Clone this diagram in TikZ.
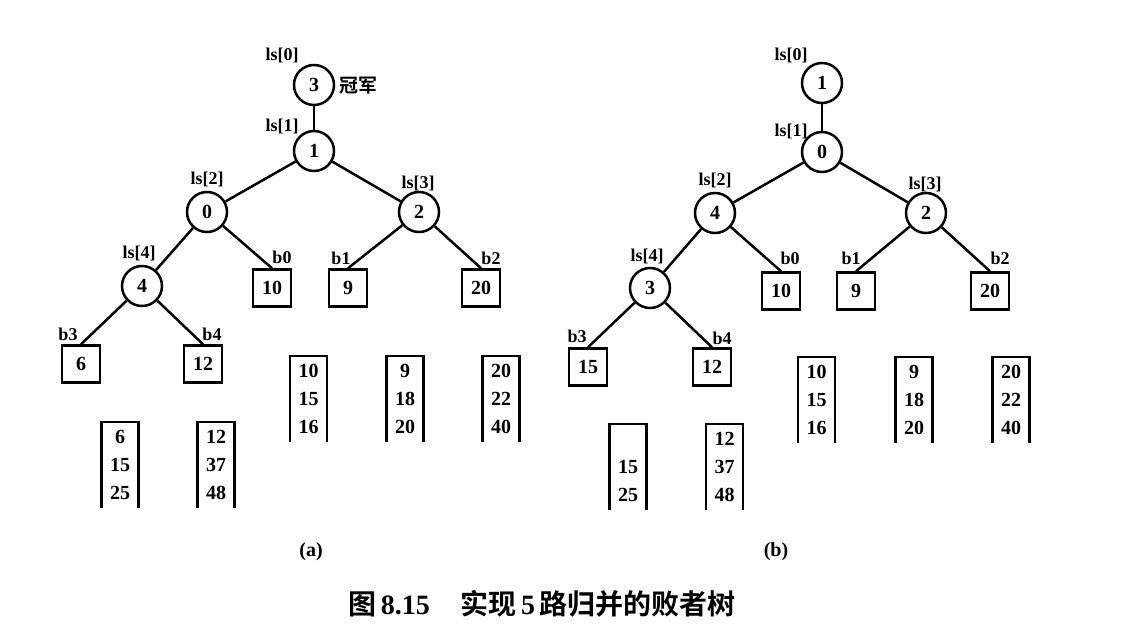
\documentclass[tikz,border=0pt]{standalone}
\usepackage{fontspec}
\setmainfont{Liberation Serif}
\newfontfamily\cjk{Noto Sans CJK SC}[BoldFont={Noto Sans CJK SC Bold}]

\tikzset{
  loser/.style={draw, circle, line width=2.5pt, minimum size=40pt, inner sep=0pt, font=\fontsize{20}{24}\selectfont\bfseries},
  leaf/.style={draw, rectangle, line width=2.5pt, minimum width=38pt, minimum height=37pt, inner sep=0pt, font=\fontsize{20}{24}\selectfont\bfseries},
  run/.style={minimum width=37pt, minimum height=86pt, inner sep=0pt, align=center, font=\fontsize{20}{28}\selectfont\bfseries},
  tag/.style={inner sep=0pt, font=\fontsize{18}{20}\selectfont\bfseries},
  champ/.style={inner sep=0pt, font=\fontsize{19}{22}\selectfont\cjk\bfseries},
  link/.style={line width=2.5pt},
  frame/.style={line width=2.5pt}
}

\begin{document}
\begin{tikzpicture}[x=1pt,y=-1pt]
			%%%%% START %%%%%
			\useasboundingbox (0,0) rectangle (1136,634);

			%%%%% (a) %%%%%
			\node[loser] (ls0a) at (314,85) {3};
			\node[loser] (ls1a) at (314,151) {1};
			\node[loser] (ls2a) at (207,212) {0};
			\node[loser] (ls3a) at (419,212) {2};
			\node[loser] (ls4a) at (142,286) {4};

			\node[leaf] (b0a) at (272,288) {10};
			\node[leaf] (b1a) at (348,288) {9};
			\node[leaf] (b2a) at (481,288) {20};
			\node[leaf] (b3a) at (81,364) {6};
			\node[leaf] (b4a) at (203,364) {12};

			\node[tag] (ls0aT) at (282,55) {ls[0]};
			\node[tag] (ls1aT) at (282,126) {ls[1]};
			\node[tag] (ls2aT) at (207,179) {ls[2]};
			\node[tag] (ls3aT) at (418,183) {ls[3]};
			\node[tag] (ls4aT) at (139,253) {ls[4]};
			\node[tag] (b0aT) at (282,257) {b0};
			\node[tag] (b1aT) at (341,258) {b1};
			\node[tag] (b2aT) at (491,258) {b2};
			\node[tag] (b3aT) at (68,334) {b3};
			\node[tag] (b4aT) at (212,334) {b4};
			\node[champ] (champa) at (358,86) {冠军};

			\draw[link] (ls0a) -- (ls1a);
			\draw[link] (ls1a) -- (ls2a);
			\draw[link] (ls1a) -- (ls3a);
			\draw[link] (ls2a) -- (ls4a);
			\draw[link] (ls2a) -- (b0a.north);
			\draw[link] (ls3a) -- (b1a.north);
			\draw[link] (ls3a) -- (b2a.north);
			\draw[link] (ls4a) -- (b3a.north);
			\draw[link] (ls4a) -- (b4a.north);

			\node[run] (run0a) at (308.5,399) {10\\15\\16};
			\node[run] (run1a) at (405,399) {9\\18\\20};
			\node[run] (run2a) at (501,399) {20\\22\\40};
			\node[run] (run3a) at (120,465) {6\\15\\25};
			\node[run] (run4a) at (216,465) {12\\37\\48};

			\node[tag, font=\fontsize{20}{24}\selectfont\bfseries] (capa) at (311,552) {(a)};

			%%%%% (b) %%%%%
			\node[loser] (ls0b) at (822,83) {1};
			\node[loser] (ls1b) at (822,152) {0};
			\node[loser] (ls2b) at (715,213) {4};
			\node[loser] (ls3b) at (926,213) {2};
			\node[loser] (ls4b) at (650,288) {3};

			\node[leaf] (b0b) at (781,291) {10};
			\node[leaf] (b1b) at (856,291) {9};
			\node[leaf] (b2b) at (990,291) {20};
			\node[leaf] (b3b) at (588,367) {15};
			\node[leaf] (b4b) at (712,367) {12};

			\node[tag] (ls0bT) at (791,55) {ls[0]};
			\node[tag] (ls1bT) at (791,131) {ls[1]};
			\node[tag] (ls2bT) at (715,180) {ls[2]};
			\node[tag] (ls3bT) at (925,184) {ls[3]};
			\node[tag] (ls4bT) at (647,256) {ls[4]};
			\node[tag] (b0bT) at (790,258) {b0};
			\node[tag] (b1bT) at (851,258) {b1};
			\node[tag] (b2bT) at (1000,258) {b2};
			\node[tag] (b3bT) at (577,336) {b3};
			\node[tag] (b4bT) at (722,338) {b4};

			\draw[link] (ls0b) -- (ls1b);
			\draw[link] (ls1b) -- (ls2b);
			\draw[link] (ls1b) -- (ls3b);
			\draw[link] (ls2b) -- (ls4b);
			\draw[link] (ls2b) -- (b0b.north);
			\draw[link] (ls3b) -- (b1b.north);
			\draw[link] (ls3b) -- (b2b.north);
			\draw[link] (ls4b) -- (b3b.north);
			\draw[link] (ls4b) -- (b4b.north);

			\node[run] (run0b) at (816.5,400) {10\\15\\16};
			\node[run] (run1b) at (914,400) {9\\18\\20};
			\node[run] (run2b) at (1011,400) {20\\22\\40};
			\node[run] (run3b) at (628,467) {\phantom{15}\\15\\25};
			\node[run] (run4b) at (724.5,467) {12\\37\\48};

			\node[tag, font=\fontsize{20}{24}\selectfont\bfseries] (capb) at (776,552) {(b)};

			% open-bottom frames round the runs
			\foreach \r in {run0a,run1a,run2a,run3a,run4a,run0b,run1b,run2b,run3b,run4b}
				\draw[frame] (\r.south west) -- (\r.north west) -- (\r.north east) -- (\r.south east);

			%%%%% CAPTION %%%%%
			\node[inner sep=0pt, font=\fontsize{28}{32}\selectfont] (title) at (542,604)
				{{\cjk\bfseries 图}\,{\bfseries 8.15}\hspace{1.1em}{\cjk\bfseries 实现}\,{\bfseries 5}\,{\cjk\bfseries 路归并的败者树}};

			%%%%% END %%%%%
		\end{tikzpicture}
\end{document}
